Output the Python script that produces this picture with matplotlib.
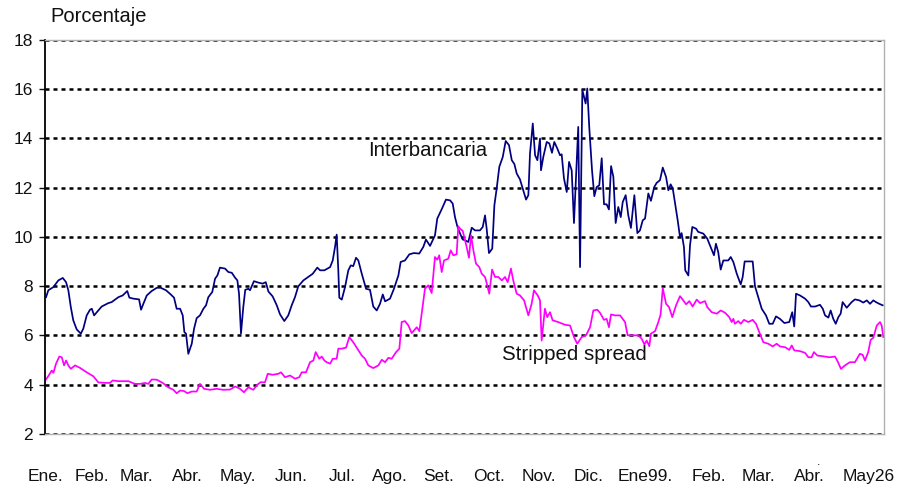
import matplotlib
matplotlib.use("Agg")
import matplotlib.pyplot as plt

plt.rcParams["font.family"] = ["Liberation Sans", "DejaVu Sans"]

# x = dias desde el 1 de enero de 1998
dias_inter = [
    0.6, 2.0, 5.1, 8.1, 10.8, 12.8, 14.2, 15.7, 17.2, 19.3, 21.8, 23.3, 25.4, 27.4, 28.5,
    29.9, 32.5, 34.5, 38.6, 40.6, 44.7, 47.3, 50.1, 51.4, 53.8, 57.3, 58.5, 59.9, 62.0,
    65.0, 68.1, 70.5, 73.7, 76.6, 78.6, 80.2, 82.3, 83.9, 84.9, 85.9, 87.3, 89.4, 90.8,
    92.4, 94.4, 96.5, 98.1, 99.5, 101.9, 103.6, 105.0, 106.6, 109.7, 111.7, 113.8, 115.8,
    117.2, 118.2, 119.4, 120.8, 122.0, 123.9, 124.9, 127.3, 130.0, 132.6, 134.5, 136.1,
    138.7, 141.2, 143.2, 145.8, 148.2, 150.3, 152.3, 154.3, 157.4, 160.4, 163.1, 165.9,
    167.6, 170.2, 173.7, 175.3, 176.7, 177.7, 178.7, 179.3, 180.8, 182.8, 184.8, 186.3,
    187.8, 189.5, 190.9, 193.0, 195.6, 198.0, 200.0, 202.1, 204.1, 205.8, 207.2, 210.2,
    212.6, 215.3, 216.7, 219.3, 222.0, 224.8, 228.0, 230.5, 232.1, 234.6, 237.6, 239.0,
    241.7, 244.3, 246.8, 248.4, 249.8, 251.2, 252.9, 254.5, 255.9, 257.9, 260.0, 262.0,
    265.0, 266.7, 268.1, 269.1, 270.5, 272.5, 273.8, 275.2, 276.8, 278.9, 280.7, 282.7,
    284.4, 286.0, 287.4, 289.4, 291.1, 293.1, 294.5, 295.5, 297.2, 298.6, 300.0, 301.6,
    302.2, 303.6, 305.7, 307.3, 308.9, 310.3, 312.1, 313.8, 314.8, 316.2, 317.9, 319.3,
    320.9, 322.3, 324.9, 326.0, 327.4, 329.4, 330.4, 331.6, 333.3, 334.7, 336.1, 337.7,
    339.2, 340.6, 342.2, 343.6, 344.9, 346.3, 347.7, 349.3, 350.8, 352.0, 353.8, 355.4,
    357.0, 359.1, 360.9, 362.5, 364.2, 365.6, 367.6, 369.2, 371.2, 372.7, 374.7, 376.4,
    378.4, 379.8, 381.2, 382.5, 383.9, 385.5, 386.9, 387.9, 389.3, 390.1, 392.0, 393.0,
    394.4, 396.7, 398.0, 401.1, 403.5, 406.2, 407.6, 408.8, 410.2, 411.7, 413.3, 416.3,
    417.8, 419.4, 421.5, 423.9, 425.1, 426.3, 428.5, 431.2, 432.6, 434.6, 436.7, 439.3,
    441.3, 443.4, 445.4, 447.8, 450.5, 453.5, 455.3, 456.5, 457.6, 460.0, 463.1, 465.1,
    466.7, 469.2, 472.2, 473.9, 475.3, 477.3, 478.7, 480.3, 481.8, 483.4, 484.8, 486.0,
    488.5, 491.5, 493.5, 496.2, 498.6, 500.7, 502.7, 504.7, 506.3, 508.3, 510.4,
]
inter = [
    7.55, 7.83, 7.96, 8.23, 8.33, 8.16, 7.83, 7.15, 6.61, 6.24, 6.07, 6.27, 6.81, 7.04, 7.08,
    6.81, 7.01, 7.17, 7.31, 7.35, 7.55, 7.62, 7.80, 7.53, 7.49, 7.46, 7.04, 7.28, 7.62,
    7.80, 7.93, 7.93, 7.83, 7.66, 7.53, 7.08, 7.08, 6.81, 6.13, 6.07, 5.25, 5.66, 6.27,
    6.70, 6.81, 7.08, 7.22, 7.55, 7.76, 8.30, 8.43, 8.75, 8.71, 8.57, 8.54, 8.34,
    8.23, 7.69, 6.07, 7.15, 7.85, 7.89, 7.83, 8.20, 8.14, 8.10, 8.16, 7.78,
    7.58, 7.22, 6.85, 6.58, 6.81, 7.22, 7.55, 7.99, 8.23, 8.37, 8.50, 8.75,
    8.64, 8.64, 8.77, 9.04, 9.59, 10.09, 8.64, 7.53, 7.45, 7.96, 8.64, 8.84,
    8.81, 9.15, 9.04, 8.50, 7.89, 7.85, 7.17, 7.01, 7.28, 7.66, 7.38, 7.49,
    7.89, 8.43, 8.98, 9.04, 9.29, 9.34, 9.32, 9.59, 9.89, 9.63, 10.06, 10.74,
    11.12, 11.51, 11.48, 11.35, 10.80, 10.43, 10.13, 9.89, 9.86, 9.79, 10.37, 10.26,
    10.26, 10.40, 10.87, 10.33, 9.34, 9.52, 11.28, 11.96, 12.84, 13.24, 13.89, 13.72,
    13.11, 12.95, 12.57, 12.33, 11.96, 11.51, 11.69, 13.38, 14.60, 13.31, 13.11, 13.99,
    12.70, 13.24, 13.85, 13.79, 13.41, 13.85, 13.59, 13.31, 13.35, 12.37, 11.82, 13.04,
    12.70, 10.56, 14.46, 8.77, 15.96, 15.41, 16.02, 14.46, 12.70, 11.65, 12.02, 12.09,
    13.19, 11.32, 11.32, 11.11, 12.87, 12.43, 10.56, 11.21, 10.80, 11.41, 11.69, 10.87,
    10.36, 11.69, 10.15, 10.26, 10.67, 10.74, 11.76, 11.46, 12.02, 12.19, 12.30, 12.81,
    12.43, 11.89, 12.13, 11.96, 11.35, 10.67, 9.99, 10.15, 9.59, 8.64, 8.43, 9.65,
    10.40, 10.33, 10.20, 10.13, 9.93, 9.48, 9.25, 9.72, 9.38, 8.67, 9.04, 9.04,
    9.18, 8.98, 8.50, 8.07, 8.37, 9.00, 9.00, 9.00, 7.99, 7.55, 7.08, 6.81,
    6.47, 6.47, 6.77, 6.67, 6.50, 6.54, 6.94, 6.36, 7.69, 7.62, 7.49, 7.35,
    7.17, 7.17, 7.24, 7.08, 6.81, 6.72, 7.01, 6.67, 6.47, 6.74, 6.88, 7.35,
    7.12, 7.35, 7.46, 7.42, 7.33, 7.42, 7.28, 7.42, 7.35, 7.28, 7.22,
]

dias_spread = [
    0.6, 2.6, 4.1, 5.1, 6.7, 8.7, 10.2, 11.6, 12.8, 14.2, 15.7, 18.3, 21.3, 25.4, 29.4,
    32.5, 36.6, 39.6, 41.2, 44.7, 50.8, 54.8, 57.9, 60.9, 62.9, 65.0, 68.1, 71.7, 75.1,
    78.2, 80.2, 82.3, 84.7, 86.7, 89.4, 92.4, 94.4, 96.9, 100.5, 104.6, 108.6, 112.7,
    115.8, 118.4, 121.2, 123.9, 126.9, 129.4, 131.4, 134.0, 135.7, 138.7, 142.2, 143.8,
    146.2, 149.3, 152.3, 154.9, 156.4, 159.0, 161.5, 163.5, 164.9, 167.1, 168.6, 170.2,
    171.6, 173.7, 175.3, 177.7, 178.7, 180.8, 183.4, 185.4, 187.8, 190.3, 193.0, 195.0,
    197.0, 200.0, 203.1, 205.2, 207.2, 209.2, 211.2, 213.9, 215.9, 217.3, 219.3, 221.4,
    223.4, 226.5, 228.1, 229.5, 231.5, 233.5, 235.6, 237.6, 239.0, 240.2, 241.7, 243.1,
    245.7, 247.2, 248.8, 250.8, 251.8, 252.9, 254.5, 255.9, 256.9, 258.3, 259.6, 261.0,
    262.6, 264.6, 266.1, 268.1, 269.1, 270.7, 272.4, 274.2, 276.2, 278.3, 280.3, 281.9,
    283.9, 285.3, 287.4, 289.4, 291.9, 294.5, 296.5, 297.9, 300.2, 301.6, 302.6, 304.6,
    306.0, 307.7, 309.3, 312.7, 316.8, 319.9, 322.3, 324.3, 327.0, 329.6, 332.1, 334.1,
    336.5, 338.2, 340.6, 342.2, 343.6, 344.9, 347.3, 350.4, 353.4, 355.0, 358.5, 361.5,
    363.6, 365.2, 366.6, 368.2, 369.2, 371.7, 373.7, 375.1, 376.4, 378.4, 380.2, 382.2,
    384.5, 386.9, 388.9, 390.6, 392.6, 394.6, 397.1, 399.1, 402.1, 403.5, 406.2, 409.3,
    411.7, 414.3, 416.9, 418.4, 419.4, 420.4, 422.4, 423.9, 425.9, 428.5, 431.2, 433.2,
    435.2, 437.7, 440.7, 443.4, 445.8, 447.8, 450.9, 453.5, 455.0, 456.5, 460.0, 463.1,
    465.1, 467.1, 468.5, 470.6, 474.2, 477.9, 481.3, 482.7, 485.0, 487.4, 490.4, 493.5,
    496.5, 498.2, 499.6, 501.6, 503.1, 504.7, 506.8, 508.8, 509.8, 510.8,
]
spread = [
    4.21, 4.41, 4.57, 4.48, 4.85, 5.14, 5.11, 4.78, 4.98, 4.78, 4.64, 4.78, 4.68, 4.50, 4.34,
    4.09, 4.07, 4.07, 4.17, 4.14, 4.14, 4.03, 4.03, 4.07, 4.03, 4.21, 4.20, 4.07, 3.89,
    3.79, 3.65, 3.76, 3.74, 3.65, 3.72, 3.72, 4.03, 3.83, 3.79, 3.83, 3.79, 3.80,
    3.92, 3.85, 3.69, 3.89, 3.79, 4.00, 4.10, 4.09, 4.44, 4.40, 4.44, 4.50,
    4.30, 4.37, 4.24, 4.30, 4.50, 4.50, 4.91, 4.98, 5.32, 5.05, 5.14, 4.98,
    4.91, 4.85, 5.05, 5.05, 5.46, 5.46, 5.50, 5.93, 5.72, 5.46, 5.18, 5.05,
    4.78, 4.67, 4.78, 5.01, 4.91, 5.09, 5.05, 5.32, 5.46, 6.54, 6.58, 6.40,
    6.09, 6.33, 6.17, 6.88, 7.89, 8.03, 7.72, 9.18, 9.07, 9.25, 8.57, 9.04,
    9.11, 9.45, 9.25, 9.29, 10.43, 10.33, 10.24, 9.86, 9.59, 9.15, 10.06, 9.45,
    8.91, 8.77, 8.50, 8.37, 8.12, 7.69, 8.67, 8.37, 8.37, 8.23, 8.37, 8.16,
    8.71, 8.23, 7.69, 7.62, 7.42, 6.81, 7.28, 7.83, 7.62, 7.42, 5.79, 7.08,
    6.74, 6.94, 6.61, 6.54, 6.43, 6.40, 5.93, 5.66, 5.93, 6.00, 6.33, 7.01,
    7.04, 6.91, 6.63, 6.67, 6.33, 6.85, 6.81, 6.81, 6.54, 6.00, 6.00, 6.00,
    5.86, 5.63, 5.79, 5.56, 6.07, 6.17, 6.54, 6.85, 7.92, 7.28, 7.15, 6.74,
    7.22, 7.59, 7.42, 7.26, 7.39, 7.17, 7.45, 7.31, 7.39, 7.15, 6.94, 6.88,
    7.01, 6.92, 6.74, 6.54, 6.67, 6.47, 6.58, 6.47, 6.63, 6.54, 6.63, 6.47,
    6.13, 5.72, 5.66, 5.55, 5.66, 5.55, 5.52, 5.41, 5.59, 5.39, 5.36, 5.29,
    5.11, 5.11, 5.32, 5.18, 5.15, 5.11, 5.14, 4.98, 4.64, 4.78, 4.91, 4.91,
    5.25, 5.21, 4.98, 5.32, 5.82, 5.90, 6.40, 6.54, 6.40, 5.93,
]

meses = ["Ene.", "Feb.", "Mar.", "Abr.", "May.", "Jun.", "Jul.", "Ago.", "Set.",
         "Oct.", "Nov.", "Dic.", "Ene99.", "Feb.", "Mar.", "Abr.", "May26"]
pos_meses = [0, 28.6, 56, 86.5, 117.6, 150, 181, 210, 240,
             270.5, 301, 331, 366, 404.6, 435, 466, 502]
y_ticks = [2, 4, 6, 8, 10, 12, 14, 16, 18]

fig = plt.figure(figsize=(8.99, 4.91), dpi=100)
ax = fig.add_axes([0.0501, 0.1163, 0.9332, 0.8028])

ax.plot(dias_inter, inter, color="#000080", lw=1.25)
ax.plot(dias_spread, spread, color="#ff00ff", lw=1.25)

ax.set_xlim(0, 511.2)
ax.set_ylim(2, 18)
ax.set_yticks(y_ticks)
ax.set_xticks(pos_meses)
ax.set_xticklabels(meses)
ax.tick_params(axis="x", length=0, pad=25, labelsize=12.5, colors="#111111")
ax.tick_params(axis="y", length=4.5, width=1, pad=4, labelsize=12.5, colors="#111111")
ax.yaxis.grid(True, color="black", lw=1.8, linestyle=(0, (1.6, 1.6)))
ax.set_axisbelow(True)

for s in ["top", "right", "bottom"]:
    ax.spines[s].set_color("#b0b0b0")
    ax.spines[s].set_linewidth(1.0)
ax.spines["left"].set_color("black")
ax.spines["left"].set_linewidth(1.3)

ax.text(196.8, 13.28, "Interbancaria", fontsize=14.7, va="baseline", ha="left", color="#111111")
ax.text(278.3, 5.01, "Stripped spread", fontsize=14.8, va="baseline", ha="left", color="#111111")
fig.text(50 / 899, 1 - 16 / 491, "Porcentaje", fontsize=14.5, va="center", ha="left", color="#111111")
fig.text(819 / 899, 1 - 465 / 491, ".", fontsize=9, va="baseline", ha="center", color="#111111")

fig.savefig("out.png", dpi=100)
